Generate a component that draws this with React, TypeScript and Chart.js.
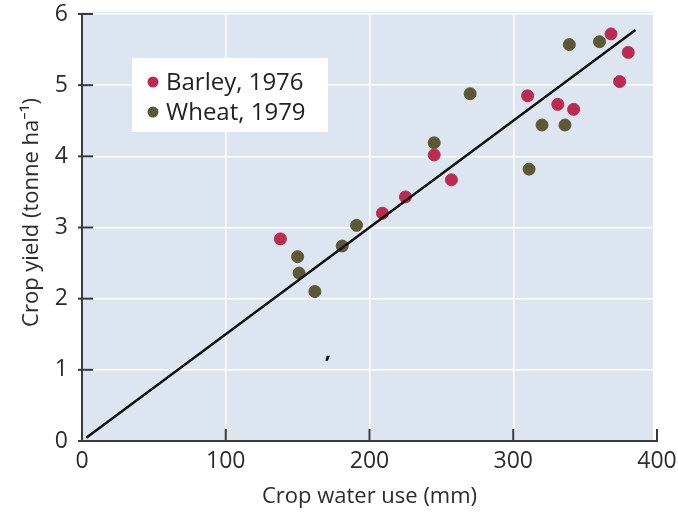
import React, { useEffect, useRef } from 'react';
import { Chart, registerables } from 'chart.js';

Chart.register(...registerables);

// ---- Data ----
const barleyX = [138, 209, 225, 245, 257, 310, 331, 342, 368, 374, 380];
const barleyY = [2.84, 3.2, 3.43, 4.02, 3.67, 4.85, 4.73, 4.66, 5.72, 5.05, 5.46];
const wheatX = [150, 151, 162, 181, 191, 245, 270, 311, 320, 336, 339, 360];
const wheatY = [2.59, 2.36, 2.1, 2.74, 3.03, 4.19, 4.88, 3.82, 4.44, 4.44, 5.57, 5.61];
const fitX = [3, 385];
const fitY = [0.045, 5.775];
const seriesLabels = ['Barley, 1976', 'Wheat, 1979'];
const xTitle = 'Crop water use (mm)';
const yTitle = 'Crop yield (tonne ha\u207B\u00B9)';
const strayMarkX = [171];
const strayMarkY = [1.25];

const BARLEY = '#bb2a50';
const WHEAT = '#5c5836';
const FONT = "'Open Sans', 'Noto Sans', sans-serif";
const TEXT = '#2c2c2c';

const bgPlugin = {
  id: 'bgPlugin',
  beforeDraw(chart: any) {
    const { ctx, chartArea } = chart;
    ctx.save();
    ctx.fillStyle = '#dde6f0';
    ctx.fillRect(chartArea.left, chartArea.top - 2, chartArea.right - chartArea.left - 4, chartArea.bottom - chartArea.top + 2);
    ctx.restore();
  },
};

const innerTicksPlugin = {
  id: 'innerTicks',
  afterDatasetsDraw(chart: any) {
    const { ctx, chartArea, scales } = chart;
    ctx.save();
    ctx.strokeStyle = '#3a3a3a';
    ctx.lineWidth = 2;
    scales.y.ticks.forEach((t: any) => {
      const py = scales.y.getPixelForValue(t.value);
      ctx.beginPath();
      ctx.moveTo(chartArea.left - 4, py);
      ctx.lineTo(chartArea.left + 11, py);
      ctx.stroke();
    });
    scales.x.ticks.forEach((t: any) => {
      const px = scales.x.getPixelForValue(t.value);
      ctx.beginPath();
      ctx.moveTo(px, chartArea.bottom + 1);
      ctx.lineTo(px, chartArea.bottom - 12);
      ctx.stroke();
    });
    // stray comma mark from the source
    ctx.fillStyle = '#111';
    ctx.font = `bold 22px ${FONT}`;
    ctx.textAlign = 'center';
    ctx.textBaseline = 'middle';
    strayMarkX.forEach((x, i) => {
      ctx.fillText(',', scales.x.getPixelForValue(x), scales.y.getPixelForValue(strayMarkY[i]));
    });
    // y axis title (slightly above centre, as in the source)
    ctx.save();
    ctx.translate(32, (chartArea.top + chartArea.bottom) / 2 - 15);
    ctx.rotate(-Math.PI / 2);
    ctx.fillStyle = TEXT;
    ctx.font = `22px ${FONT}`;
    ctx.fillText(yTitle, 0, 0);
    ctx.restore();
    ctx.restore();
  },
};

const legendPlugin = {
  id: 'customLegend',
  afterDraw(chart: any) {
    const { ctx, chartArea } = chart;
    const bx = chartArea.left + 50;
    const by = chartArea.top + 44;
    ctx.save();
    ctx.fillStyle = '#ffffff';
    ctx.fillRect(bx, by, 196, 74);
    const colors = [BARLEY, WHEAT];
    ctx.font = `24px ${FONT}`;
    ctx.textBaseline = 'middle';
    ctx.textAlign = 'left';
    seriesLabels.forEach((lab, i) => {
      const cy = by + 24 + i * 30;
      ctx.fillStyle = colors[i];
      ctx.beginPath();
      ctx.arc(bx + 21, cy, 5.5, 0, Math.PI * 2);
      ctx.fill();
      ctx.fillStyle = '#222';
      ctx.fillText(lab, bx + 34, cy + 1);
    });
    ctx.restore();
  },
};

export default function App() {
  const ref = useRef<HTMLCanvasElement>(null);
  useEffect(() => {
    const chart = new Chart(ref.current as HTMLCanvasElement, {
      type: 'scatter',
      data: {
        datasets: [
          {
            label: seriesLabels[0],
            data: barleyX.map((x, i) => ({ x, y: barleyY[i] })),
            backgroundColor: BARLEY,
            borderColor: BARLEY,
            pointRadius: 6,
            pointHoverRadius: 6,
            order: 2,
          },
          {
            label: seriesLabels[1],
            data: wheatX.map((x, i) => ({ x, y: wheatY[i] })),
            backgroundColor: WHEAT,
            borderColor: WHEAT,
            pointRadius: 6,
            pointHoverRadius: 6,
            order: 2,
          },
          {
            label: 'fit',
            data: fitX.map((x, i) => ({ x, y: fitY[i] })),
            showLine: true,
            borderColor: '#111111',
            borderWidth: 2.5,
            pointRadius: 0,
            order: 1,
          } as any,
        ],
      },
      options: {
        responsive: false,
        animation: false,
        layout: { padding: { top: 14, right: 21, left: 0, bottom: 0 } },
        plugins: { legend: { display: false }, tooltip: { enabled: false } },
        scales: {
          x: {
            type: 'linear',
            min: 0,
            max: 400,
            ticks: { stepSize: 100, color: TEXT, font: { family: FONT, size: 23 }, padding: 7 },
            grid: { color: '#ffffff', lineWidth: 1.5, drawTicks: false },
            border: { display: true, color: '#3a3a3a', width: 2 },
            title: {
              display: true,
              text: xTitle,
              color: TEXT,
              font: { family: FONT, size: 22 },
              padding: { top: 0, bottom: 5 },
            },
            afterFit: (s: any) => {
              s.height = 74;
              s.paddingRight = 0;
              s.paddingLeft = 0;
            },
          },
          y: {
            type: 'linear',
            min: 0,
            max: 6,
            ticks: { stepSize: 1, color: TEXT, font: { family: FONT, size: 23 }, padding: 14 },
            grid: { color: '#ffffff', lineWidth: 1.5, drawTicks: false },
            border: { display: true, color: '#3a3a3a', width: 2 },
            title: { display: false },
            afterFit: (s: any) => {
              s.width = 82;
              s.paddingTop = 0;
              s.paddingBottom = 0;
            },
          },
        },
      },
      plugins: [bgPlugin, innerTicksPlugin, legendPlugin],
    });
    return () => chart.destroy();
  }, []);
  return (
    <div style={{ position: 'fixed', left: 0, top: 0, width: 678, height: 515, background: '#ffffff' }}>
      <canvas ref={ref} width={678} height={515} style={{ display: 'block' }} />
    </div>
  );
}
